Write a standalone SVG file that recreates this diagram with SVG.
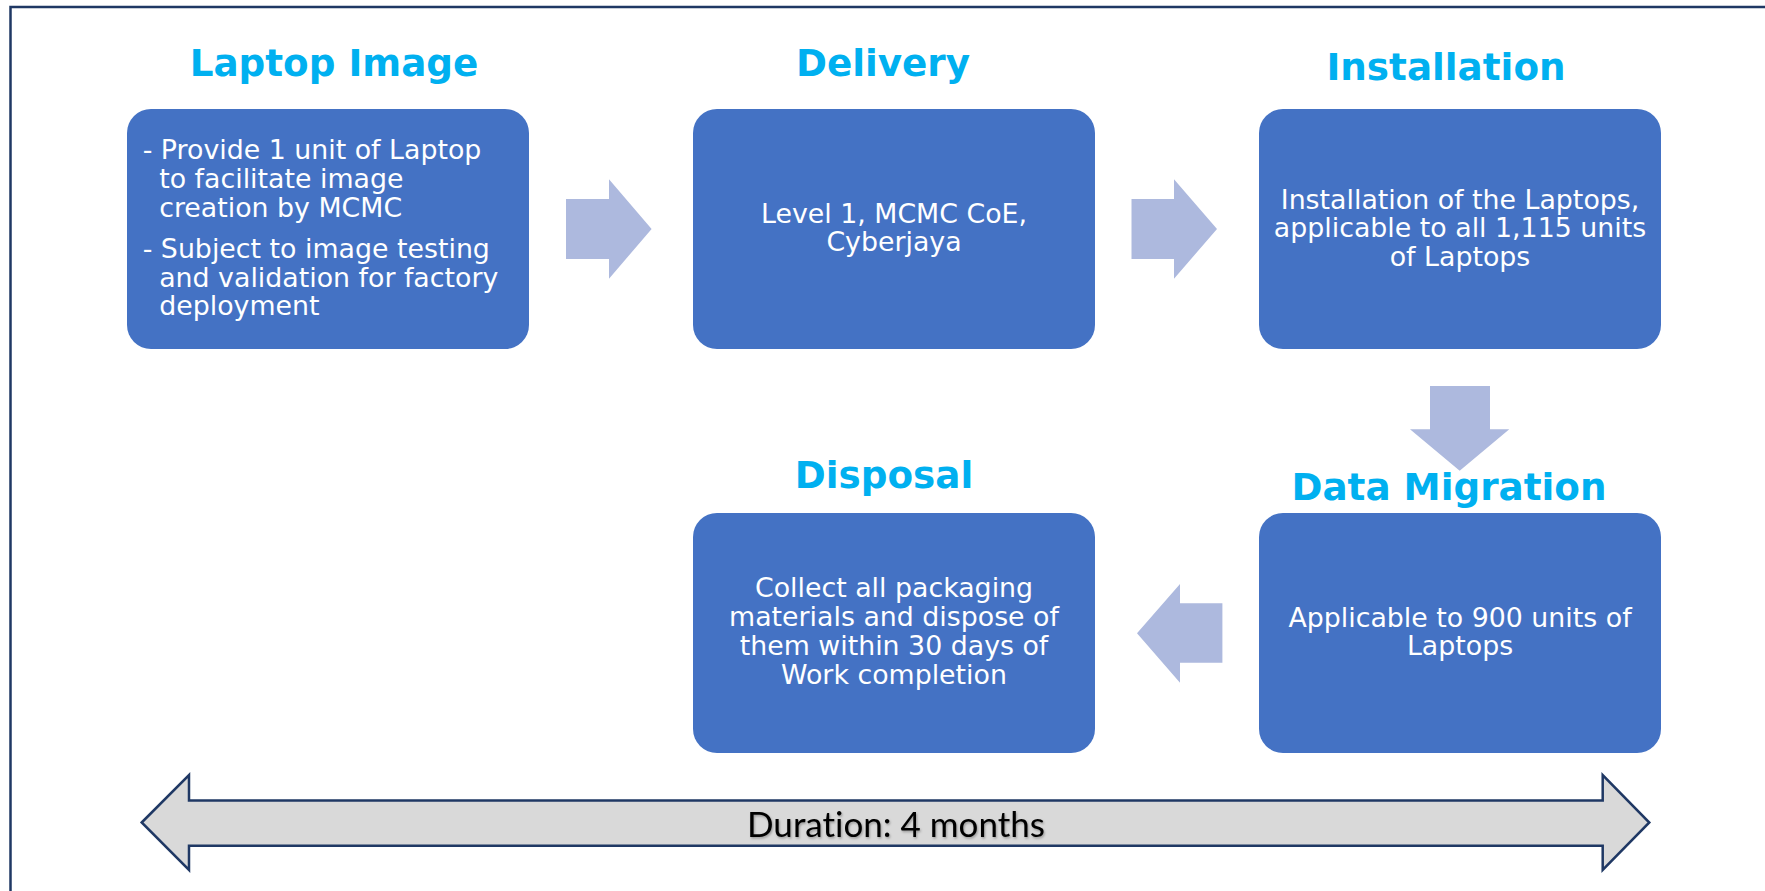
<svg xmlns="http://www.w3.org/2000/svg" width="1765" height="891" viewBox="0 0 1765 891">
  <style>
    .box { fill: #4472c4; }
    .title { font-family: "DejaVu Sans", Verdana, sans-serif; font-weight: bold; font-size: 37.3px; fill: #00b0f0; text-anchor: middle; }
    .body { font-family: "DejaVu Sans", Verdana, sans-serif; font-size: 26.8px; fill: #ffffff; }
    .c { text-anchor: middle; }
    .flow { fill: #adb9de; }
    .dur { fill: #d9d9d9; stroke: #1f3864; stroke-width: 2.5; stroke-linejoin: miter; }
    .durtext { font-family: Lato, "Liberation Sans", sans-serif; font-size: 35px; fill: #000000; text-anchor: middle; font-variant-ligatures: none; }
  </style>
  <defs>
    <filter id="shadow" x="-5%" y="-20%" width="110%" height="140%">
      <feDropShadow dx="1" dy="1.5" stdDeviation="0.8" flood-color="#000000" flood-opacity="0.3"/>
    </filter>
  </defs>
  <rect x="0" y="0" width="1765" height="891" fill="#ffffff"/>
  <rect x="10.5" y="7" width="1800" height="1000" fill="none" stroke="#1f3864" stroke-width="2.5"/>

  <g id="laptop-image">
    <text class="title" x="334" y="76">Laptop Image</text>
    <rect class="box" x="127" y="109" width="402" height="240" rx="24" ry="24"/>
    <text class="body" x="142.7" y="159.3">- Provide 1 unit of Laptop</text>
    <text class="body" x="159.2" y="188.3">to facilitate image</text>
    <text class="body" x="159.2" y="217.3">creation by MCMC</text>
    <text class="body" x="142.7" y="258.3">- Subject to image testing</text>
    <text class="body" x="159.2" y="286.7">and validation for factory</text>
    <text class="body" x="159.2" y="315">deployment</text>
  </g>

  <g id="delivery">
    <text class="title" x="883" y="76">Delivery</text>
    <rect class="box" x="693" y="109" width="402" height="240" rx="24" ry="24"/>
    <text class="body c" x="894" y="222.7">Level 1, MCMC CoE,</text>
    <text class="body c" x="894" y="251">Cyberjaya</text>
  </g>

  <g id="installation">
    <text class="title" x="1446" y="80">Installation</text>
    <rect class="box" x="1259" y="109" width="402" height="240" rx="24" ry="24"/>
    <text class="body c" x="1460" y="209">Installation of the Laptops,</text>
    <text class="body c" x="1460" y="237.3">applicable to all 1,115 units</text>
    <text class="body c" x="1460" y="265.7">of Laptops</text>
  </g>

  <g id="data-migration">
    <text class="title" x="1449" y="500">Data Migration</text>
    <rect class="box" x="1259" y="513" width="402" height="240" rx="24" ry="24"/>
    <text class="body c" x="1460" y="626.7">Applicable to 900 units of</text>
    <text class="body c" x="1460" y="655">Laptops</text>
  </g>

  <g id="disposal">
    <text class="title" x="884" y="488">Disposal</text>
    <rect class="box" x="693" y="513" width="402" height="240" rx="24" ry="24"/>
    <text class="body c" x="894" y="596.7">Collect all packaging</text>
    <text class="body c" x="894" y="625.7">materials and dispose of</text>
    <text class="body c" x="894" y="655">them within 30 days of</text>
    <text class="body c" x="894" y="684">Work completion</text>
  </g>

  <g id="connectors">
    <polygon class="flow" points="566,199 609,199 609,179.3 651.6,229 609,278.7 609,259 566,259"/>
    <polygon class="flow" points="1131.5,199 1174,199 1174,179.3 1217,229 1174,278.7 1174,259 1131.5,259"/>
    <polygon class="flow" points="1430,386 1490,386 1490,429.3 1509.3,429.3 1459.7,470.7 1410,429.3 1430,429.3"/>
    <polygon class="flow" points="1222.4,603.3 1180,603.3 1180,584 1137,633.3 1180,682.7 1180,662.7 1222.4,662.7"/>
  </g>

  <g id="duration">
    <polygon class="dur" points="141.7,822.5 189,775 189,800.5 1602.7,800.5 1602.7,775 1649.3,822.5 1602.7,870 1602.7,845.7 189,845.7 189,870"/>
    <text class="durtext" x="896" y="836.7" filter="url(#shadow)">Duration: 4 months</text>
  </g>
</svg>
